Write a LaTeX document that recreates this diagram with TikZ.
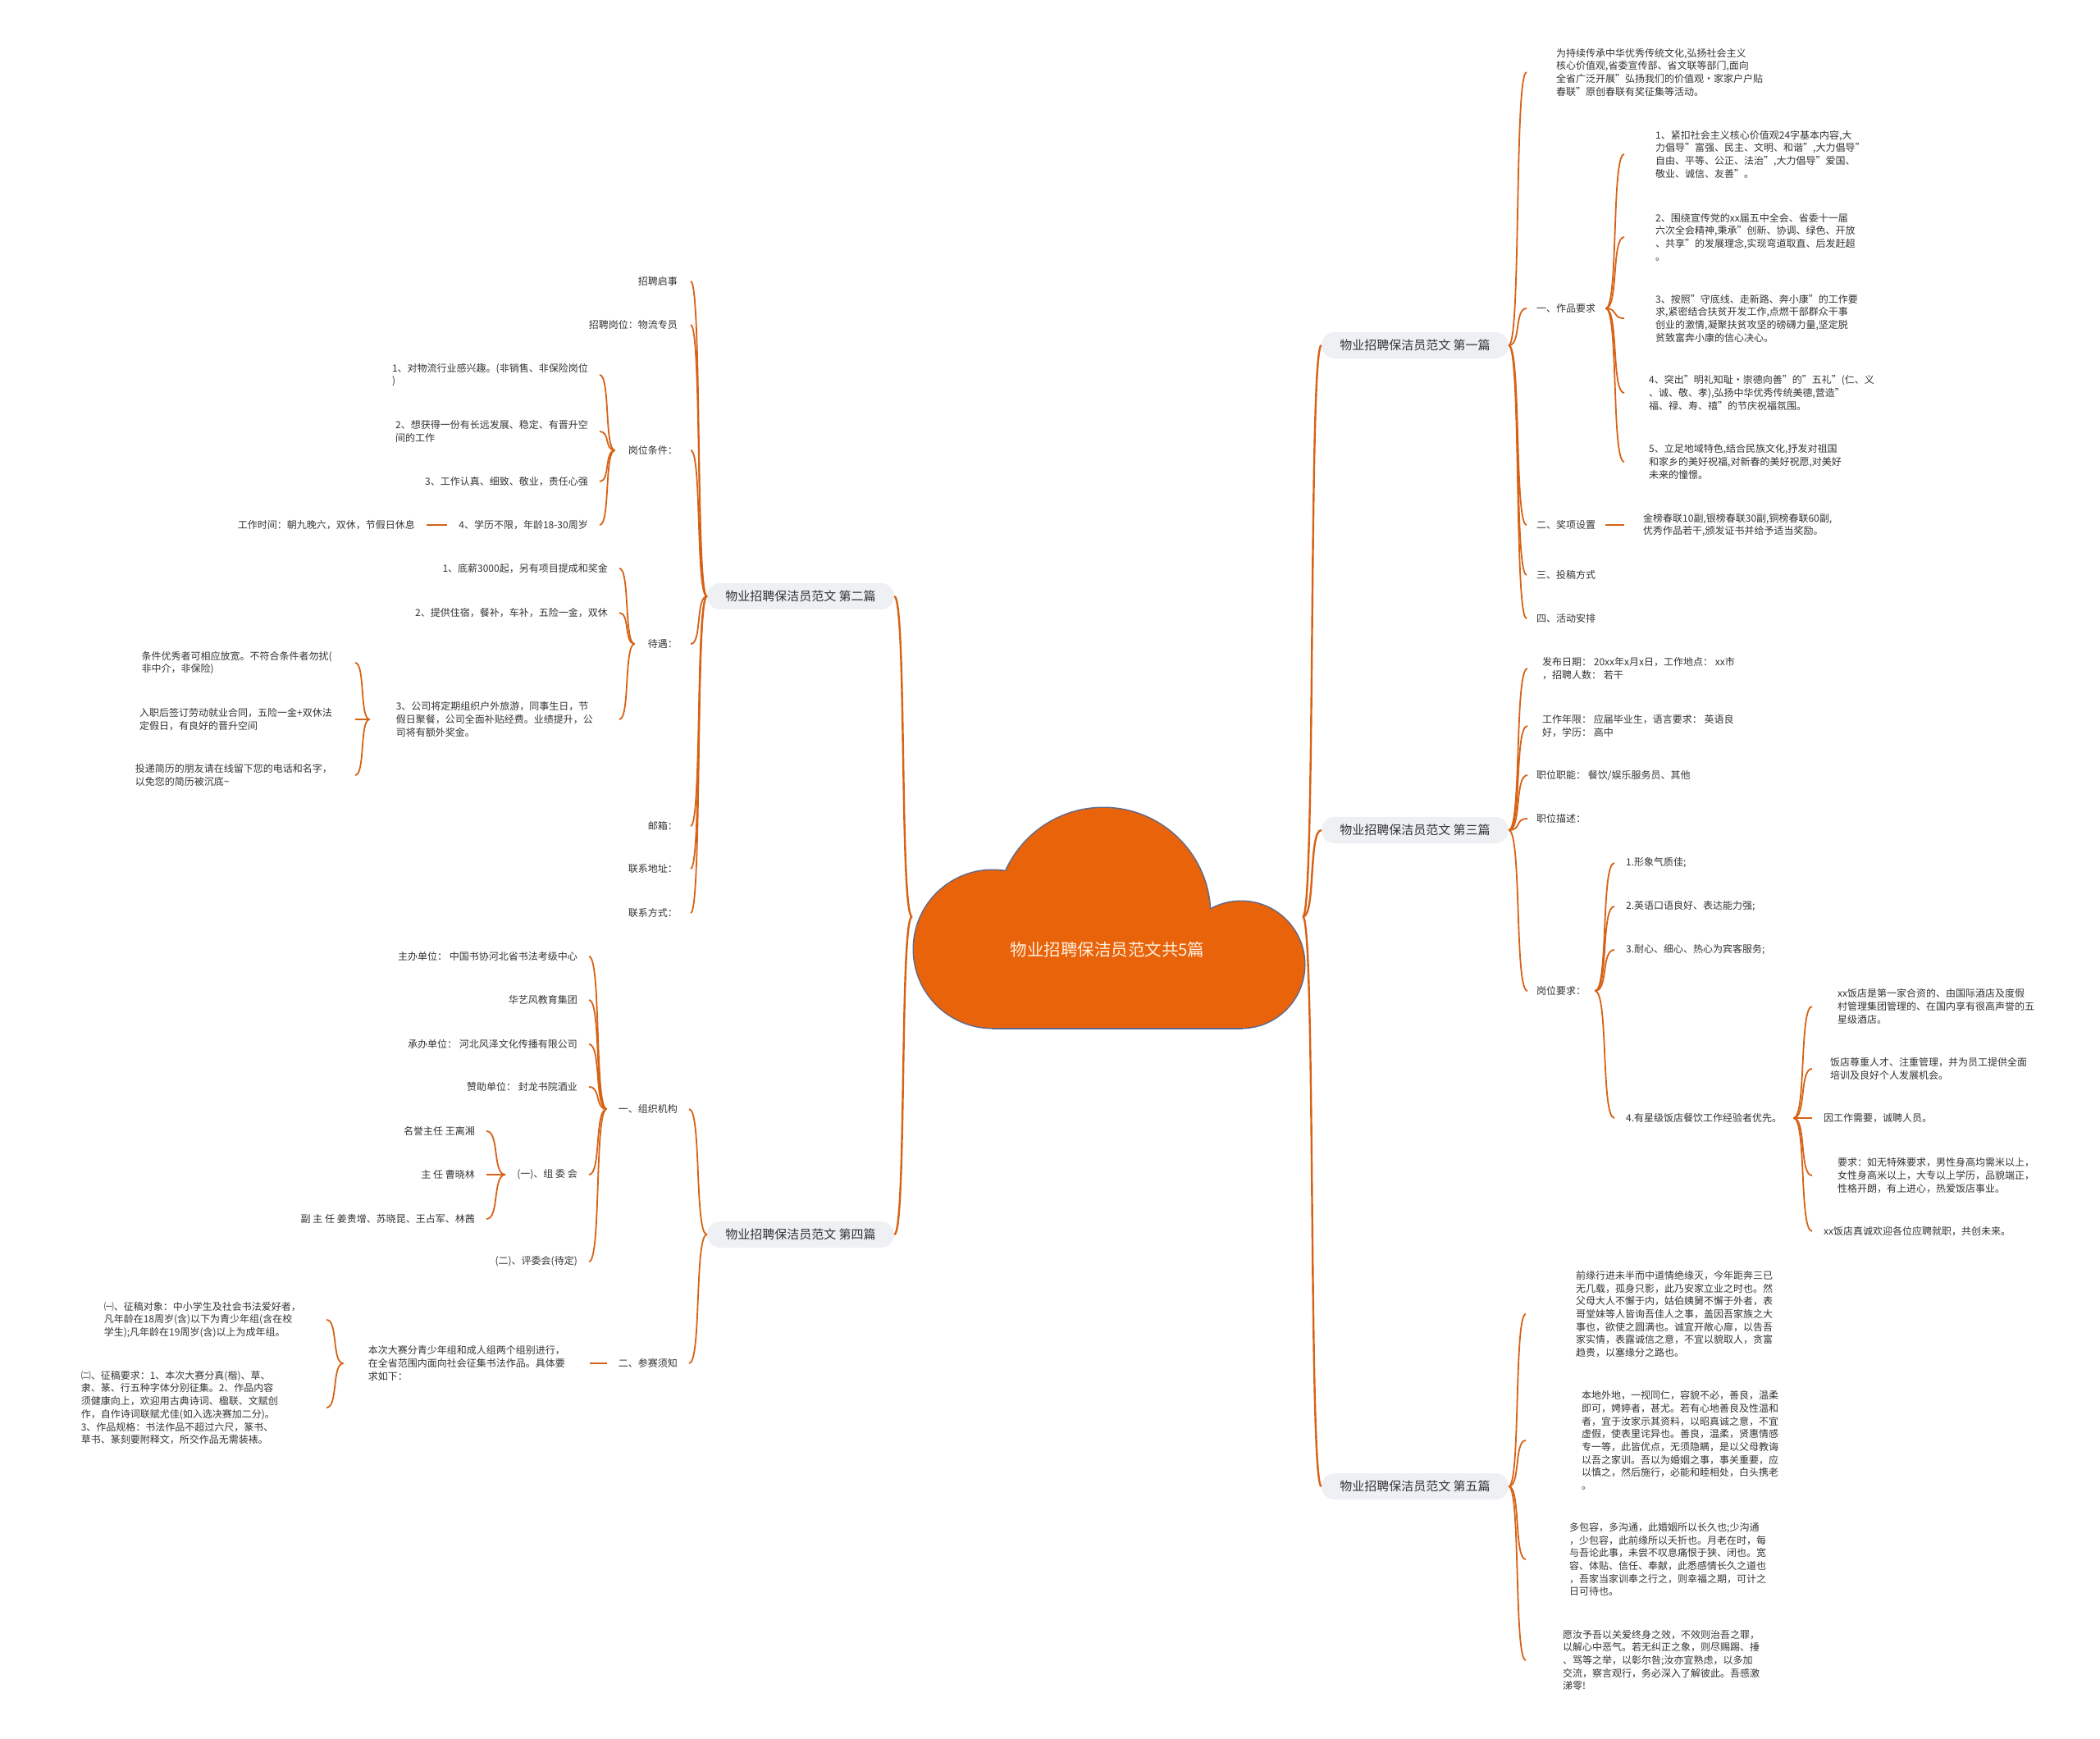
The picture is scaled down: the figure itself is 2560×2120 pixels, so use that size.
\documentclass[tikz,border=0pt]{standalone}
\usepackage{fontspec}
\setmainfont{Noto Sans CJK SC}
\usetikzlibrary{calc}
\definecolor{linkc}{RGB}{214,98,22}
\definecolor{cloudc}{RGB}{232,99,10}
\definecolor{cloudedge}{RGB}{95,105,140}
\definecolor{pillc}{RGB}{238,240,243}
\definecolor{inkc}{RGB}{51,51,51}
\definecolor{titlec}{RGB}{255,240,222}

\begin{document}
\begin{tikzpicture}[x=1pt, y=1pt,
  link/.style={draw=linkc, line width=1.8},
  brace/.style={to path={.. controls ($(\tikztostart)!0.7!(\tikztostart-|\tikztotarget)$) and ($(\tikztotarget)!0.7!(\tikztotarget-|\tikztostart)$) .. (\tikztotarget)}},
  pill/.style={fill=pillc, rounded corners=16, minimum width=228, minimum height=32, inner sep=0, text=inkc, font=\fontsize{15}{18}\selectfont},
  leaf/.style={align=left, inner ysep=2, inner xsep=14, text=inkc, font=\fontsize{12}{15.7}\selectfont},
  rleaf/.style={leaf, anchor=west},
  lleaf/.style={leaf, anchor=east},
  cloudline/.style={draw=cloudedge, line width=3},
  cloudfill/.style={fill=cloudc}
]
  \useasboundingbox (0,0) rectangle (2560,-2120);

  % cloud: outline first, fill over it
  \draw[cloudline] (1210,-1157) circle[radius=96];
  \draw[cloudline] (1345,-1115) circle[radius=130];
  \draw[cloudline] (1513,-1176) circle[radius=77];
  \draw[cloudline] (1210,-1253) rectangle (1513,-1157);
  \fill[cloudfill] (1210,-1157) circle[radius=96];
  \fill[cloudfill] (1345,-1115) circle[radius=130];
  \fill[cloudfill] (1513,-1176) circle[radius=77];
  \fill[cloudfill] (1210,-1253) rectangle (1513,-1157);
  \node[minimum width=476, minimum height=271, inner sep=0] (root) at (1350,-1117.5) {};
  \node[text=titlec, font=\fontsize{20.5}{24}\selectfont] (title) at (1350,-1158) {物业招聘保洁员范文共5篇};

  \node[pill] (m1) at (1725,-421) {物业招聘保洁员范文 第一篇};
  \node[pill] (m2) at (976,-727) {物业招聘保洁员范文 第二篇};
  \node[pill] (m3) at (1725,-1012) {物业招聘保洁员范文 第三篇};
  \node[pill] (m4) at (976,-1505) {物业招聘保洁员范文 第四篇};
  \node[pill] (m5) at (1725,-1812) {物业招聘保洁员范文 第五篇};

  % first
  \node[rleaf, inner xsep=36] (r1a) at (1861,-88) {为持续传承中华优秀传统文化,弘扬社会主义\\核心价值观,省委宣传部、省文联等部门,面向\\全省广泛开展"弘扬我们的价值观·家家户户贴\\春联"原创春联有奖征集等活动。};
  \node[rleaf, inner xsep=12] (r1b) at (1861,-376) {一、作品要求};
  \node[rleaf, inner xsep=12] (r1c) at (1861,-640) {二、奖项设置};
  \node[rleaf, inner xsep=12] (r1d) at (1861,-701) {三、投稿方式};
  \node[rleaf, inner xsep=12] (r1e) at (1861,-754) {四、活动安排};
  \node[rleaf, inner xsep=38] (r1b1) at (1980,-188) {1、紧扣社会主义核心价值观24字基本内容,大\\力倡导"富强、民主、文明、和谐",大力倡导"\\自由、平等、公正、法治",大力倡导"爱国、\\敬业、诚信、友善"。};
  \node[rleaf, inner xsep=38] (r1b2) at (1980,-289) {2、围绕宣传党的xx届五中全会、省委十一届\\六次全会精神,秉承"创新、协调、绿色、开放\\、共享"的发展理念,实现弯道取直、后发赶超\\。};
  \node[rleaf, inner xsep=38] (r1b3) at (1980,-388) {3、按照"守底线、走新路、奔小康"的工作要\\求,紧密结合扶贫开发工作,点燃干部群众干事\\创业的激情,凝聚扶贫攻坚的磅礴力量,坚定脱\\贫致富奔小康的信心决心。};
  \node[rleaf, inner xsep=30] (r1b4) at (1980,-479) {4、突出"明礼知耻·崇德向善"的"五礼"(仁、义\\、诚、敬、孝),弘扬中华优秀传统美德,营造"\\福、禄、寿、禧"的节庆祝福氛围。};
  \node[rleaf, inner xsep=30] (r1b5) at (1980,-563) {5、立足地域特色,结合民族文化,抒发对祖国\\和家乡的美好祝福,对新春的美好祝愿,对美好\\未来的憧憬。};
  \node[rleaf, inner xsep=23] (r1c1) at (1980,-640) {金榜春联10副,银榜春联30副,铜榜春联60副,\\优秀作品若干,颁发证书并给予适当奖励。};

  % third
  \node[rleaf, inner xsep=18] (r3a) at (1862,-815) {发布日期： 20xx年x月x日，工作地点： xx市\\，招聘人数： 若干};
  \node[rleaf, inner xsep=18] (r3b) at (1862,-885) {工作年限： 应届毕业生，语言要求： 英语良\\好，学历： 高中};
  \node[rleaf, inner xsep=11] (r3c) at (1862,-945) {职位职能： 餐饮/娱乐服务员、其他};
  \node[rleaf, inner xsep=11] (r3d) at (1862,-998) {职位描述：};
  \node[rleaf, inner xsep=11] (r3e) at (1862,-1208) {岗位要求：};
  \node[rleaf] (r3e1) at (1968,-1052) {1.形象气质佳;};
  \node[rleaf] (r3e2) at (1968,-1105) {2.英语口语良好、表达能力强;};
  \node[rleaf] (r3e3) at (1968,-1158) {3.耐心、细心、热心为宾客服务;};
  \node[rleaf] (r3e4) at (1968,-1363) {4.有星级饭店餐饮工作经验者优先。};
  \node[rleaf, inner xsep=31] (r3e4a) at (2209,-1227) {xx饭店是第一家合资的、由国际酒店及度假\\村管理集团管理的、在国内享有很高声誉的五\\星级酒店。};
  \node[rleaf, inner xsep=22] (r3e4b) at (2209,-1303) {饭店尊重人才、注重管理，并为员工提供全面\\培训及良好个人发展机会。};
  \node[rleaf] (r3e4c) at (2209,-1363) {因工作需要，诚聘人员。};
  \node[rleaf, inner xsep=31] (r3e4d) at (2209,-1433) {要求：如无特殊要求，男性身高均需米以上，\\女性身高米以上，大专以上学历，品貌端正，\\性格开朗，有上进心，热爱饭店事业。};
  \node[rleaf] (r3e4e) at (2209,-1501) {xx饭店真诚欢迎各位应聘就职，共创未来。};

  % fifth
  \node[rleaf, inner xsep=61] (r5a) at (1860,-1602) {前缘行进未半而中道情绝缘灭，今年距奔三已\\无几载，孤身只影，此乃安家立业之时也。然\\父母大人不懈于内，姑伯姨舅不懈于外者，表\\哥堂妹等人皆询吾佳人之事，盖因吾家族之大\\事也，欲使之圆满也。诚宜开敞心扉，以告吾\\家实情，表露诚信之意，不宜以貌取人，贪富\\趋贵，以塞缘分之路也。};
  \node[rleaf, inner xsep=68] (r5b) at (1860,-1756) {本地外地，一视同仁，容貌不必，善良，温柔\\即可，娉婷者，甚尤。若有心地善良及性温和\\者，宜于汝家示其资料，以昭真诚之意，不宜\\虚假，使表里诧异也。善良，温柔，贤惠情感\\专一等，此皆优点，无须隐瞒，是以父母教诲\\以吾之家训。吾以为婚姻之事，事关重要，应\\以慎之，然后施行，必能和睦相处，白头携老\\。};
  \node[rleaf, inner xsep=53] (r5c) at (1860,-1901) {多包容，多沟通，此婚姻所以长久也;少沟通\\，少包容，此前缘所以夭折也。月老在时，每\\与吾论此事，未尝不叹息痛恨于狭、闭也。宽\\容、体贴、信任、奉献，此悉感情长久之道也\\，吾家当家训奉之行之，则幸福之期，可计之\\日可待也。};
  \node[rleaf, inner xsep=45] (r5d) at (1860,-2024) {愿汝予吾以关爱终身之效，不效则治吾之罪，\\以解心中恶气。若无纠正之象，则尽赐踢、捶\\、骂等之举，以彰尔咎;汝亦宜熟虑，以多加\\交流，察言观行，务必深入了解彼此。吾感激\\涕零!};

  % second
  \node[lleaf, inner xsep=16] (l2a) at (842,-343) {招聘启事};
  \node[lleaf, inner xsep=16] (l2b) at (842,-396) {招聘岗位：物流专员};
  \node[lleaf, inner xsep=16] (l2c) at (842,-549) {岗位条件：};
  \node[lleaf] (l2c1) at (731,-457) {1、对物流行业感兴趣。(非销售、非保险岗位\\)};
  \node[lleaf] (l2c2) at (731,-526) {2、想获得一份有长远发展、稳定、有晋升空\\间的工作};
  \node[lleaf] (l2c3) at (731,-587) {3、工作认真、细致、敬业，责任心强};
  \node[lleaf] (l2c4) at (731,-640) {4、学历不限，年龄18-30周岁};
  \node[lleaf] (l2c4a) at (520,-640) {工作时间：朝九晚六，双休，节假日休息};
  \node[lleaf, inner xsep=16] (l2d) at (842,-785) {待遇：};
  \node[lleaf] (l2d1) at (755,-693) {1、底薪3000起，另有项目提成和奖金};
  \node[lleaf] (l2d2) at (755,-747) {2、提供住宿，餐补，车补，五险一金，双休};
  \node[lleaf, inner xsep=32] (l2d3) at (755,-877) {3、公司将定期组织户外旅游，同事生日，节\\假日聚餐，公司全面补贴经费。业绩提升，公\\司将有额外奖金。};
  \node[lleaf, inner xsep=28] (l2d3a) at (433,-808) {条件优秀者可相应放宽。不符合条件者勿扰(\\非中介，非保险)};
  \node[lleaf, inner xsep=28] (l2d3b) at (433,-877) {入职后签订劳动就业合同，五险一金+双休法\\定假日，有良好的晋升空间};
  \node[lleaf, inner xsep=28] (l2d3c) at (433,-945) {投递简历的朋友请在线留下您的电话和名字，\\以免您的简历被沉底\textasciitilde};
  \node[lleaf, inner xsep=16] (l2e) at (842,-1007) {邮箱：};
  \node[lleaf, inner xsep=16] (l2f) at (842,-1059) {联系地址：};
  \node[lleaf, inner xsep=16] (l2g) at (842,-1113) {联系方式：};

  % fourth
  \node[lleaf] (l4a) at (840,-1352) {一、组织机构};
  \node[lleaf] (l4a1) at (718,-1166) {主办单位： 中国书协河北省书法考级中心};
  \node[lleaf] (l4a2) at (718,-1219) {华艺风教育集团};
  \node[lleaf] (l4a3) at (718,-1273) {承办单位： 河北风泽文化传播有限公司};
  \node[lleaf] (l4a4) at (718,-1325) {赞助单位： 封龙书院酒业};
  \node[lleaf] (l4a5) at (718,-1432) {(一)、组 委 会};
  \node[lleaf] (l4a5a) at (593,-1379) {名誉主任 王离湘};
  \node[lleaf] (l4a5b) at (593,-1432) {主 任 曹晓林};
  \node[lleaf] (l4a5c) at (593,-1486) {副 主 任 姜贵增、苏晓昆、王占军、林茜};
  \node[lleaf] (l4a6) at (718,-1538) {(二)、评委会(待定)};
  \node[lleaf] (l4b) at (840,-1662) {二、参赛须知};
  \node[lleaf, inner xsep=30] (l4b1) at (719,-1662) {本次大赛分青少年组和成人组两个组别进行，\\在全省范围内面向社会征集书法作品。具体要\\求如下：};
  \node[lleaf, inner xsep=31] (l4b1a) at (398,-1609) {㈠、征稿对象：中小学生及社会书法爱好者，\\凡年龄在18周岁(含)以下为青少年组(含在校\\学生);凡年龄在19周岁(含)以上为成年组。};
  \node[lleaf, inner xsep=59] (l4b1b) at (398,-1716) {㈡、征稿要求：1、本次大赛分真(楷)、草、\\隶、篆、行五种字体分别征集。2、作品内容\\须健康向上，欢迎用古典诗词、楹联、文赋创\\作，自作诗词联赋尤佳(如入选决赛加二分)。\\3、作品规格：书法作品不超过六尺，篆书、\\草书、篆刻要附释文，所交作品无需装裱。};

  % connectors
  \draw[link, line width=2.4] (root.east) to[brace] (m1.west);
  \draw[link, line width=2.4] (root.east) to[brace] (m3.west);
  \draw[link, line width=2.4] (root.east) to[brace] (m5.west);
  \draw[link, line width=2.4] (root.west) to[brace] (m2.east);
  \draw[link, line width=2.4] (root.west) to[brace] (m4.east);

  \draw[link] (m1.east) to[brace] (r1a.west);
  \draw[link] (m1.east) to[brace] (r1b.west);
  \draw[link] (m1.east) to[brace] (r1c.west);
  \draw[link] (m1.east) to[brace] (r1d.west);
  \draw[link] (m1.east) to[brace] (r1e.west);
  \draw[link] (r1b.east) to[brace] (r1b1.west);
  \draw[link] (r1b.east) to[brace] (r1b2.west);
  \draw[link] (r1b.east) to[brace] (r1b3.west);
  \draw[link] (r1b.east) to[brace] (r1b4.west);
  \draw[link] (r1b.east) to[brace] (r1b5.west);
  \draw[link] (r1c.east) -- (r1c1.west);

  \draw[link] (m3.east) to[brace] (r3a.west);
  \draw[link] (m3.east) to[brace] (r3b.west);
  \draw[link] (m3.east) to[brace] (r3c.west);
  \draw[link] (m3.east) to[brace] (r3d.west);
  \draw[link] (m3.east) to[brace] (r3e.west);
  \draw[link] (r3e.east) to[brace] (r3e1.west);
  \draw[link] (r3e.east) to[brace] (r3e2.west);
  \draw[link] (r3e.east) to[brace] (r3e3.west);
  \draw[link] (r3e.east) to[brace] (r3e4.west);
  \draw[link] (r3e4.east) to[brace] (r3e4a.west);
  \draw[link] (r3e4.east) to[brace] (r3e4b.west);
  \draw[link] (r3e4.east) -- (r3e4c.west);
  \draw[link] (r3e4.east) to[brace] (r3e4d.west);
  \draw[link] (r3e4.east) to[brace] (r3e4e.west);

  \draw[link] (m5.east) to[brace] (r5a.west);
  \draw[link] (m5.east) to[brace] (r5b.west);
  \draw[link] (m5.east) to[brace] (r5c.west);
  \draw[link] (m5.east) to[brace] (r5d.west);

  \draw[link] (m2.west) to[brace] (l2a.east);
  \draw[link] (m2.west) to[brace] (l2b.east);
  \draw[link] (m2.west) to[brace] (l2c.east);
  \draw[link] (m2.west) to[brace] (l2d.east);
  \draw[link] (m2.west) to[brace] (l2e.east);
  \draw[link] (m2.west) to[brace] (l2f.east);
  \draw[link] (m2.west) to[brace] (l2g.east);
  \draw[link] (l2c.west) to[brace] (l2c1.east);
  \draw[link] (l2c.west) to[brace] (l2c2.east);
  \draw[link] (l2c.west) to[brace] (l2c3.east);
  \draw[link] (l2c.west) to[brace] (l2c4.east);
  \draw[link] (l2c4.west) -- (l2c4a.east);
  \draw[link] (l2d.west) to[brace] (l2d1.east);
  \draw[link] (l2d.west) to[brace] (l2d2.east);
  \draw[link] (l2d.west) to[brace] (l2d3.east);
  \draw[link] (l2d3.west) to[brace] (l2d3a.east);
  \draw[link] (l2d3.west) to[brace] (l2d3b.east);
  \draw[link] (l2d3.west) to[brace] (l2d3c.east);

  \draw[link] (m4.west) to[brace] (l4a.east);
  \draw[link] (m4.west) to[brace] (l4b.east);
  \draw[link] (l4a.west) to[brace] (l4a1.east);
  \draw[link] (l4a.west) to[brace] (l4a2.east);
  \draw[link] (l4a.west) to[brace] (l4a3.east);
  \draw[link] (l4a.west) to[brace] (l4a4.east);
  \draw[link] (l4a.west) to[brace] (l4a5.east);
  \draw[link] (l4a.west) to[brace] (l4a6.east);
  \draw[link] (l4a5.west) to[brace] (l4a5a.east);
  \draw[link] (l4a5.west) -- (l4a5b.east);
  \draw[link] (l4a5.west) to[brace] (l4a5c.east);
  \draw[link] (l4b.west) -- (l4b1.east);
  \draw[link] (l4b1.west) to[brace] (l4b1a.east);
  \draw[link] (l4b1.west) to[brace] (l4b1b.east);
\end{tikzpicture}
\end{document}
